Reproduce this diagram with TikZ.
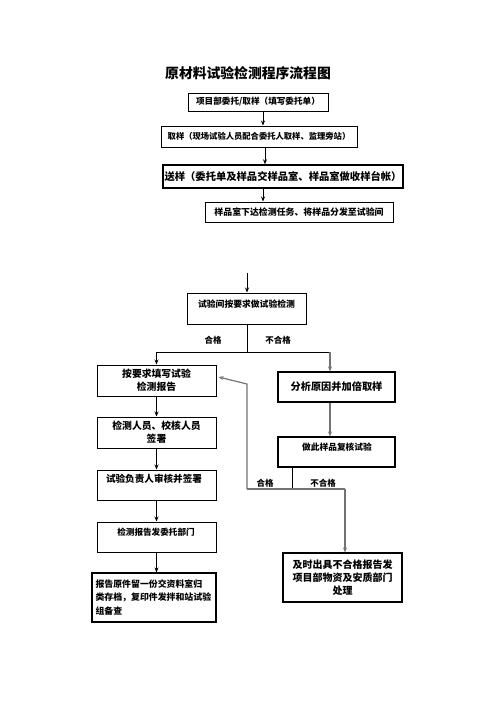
\documentclass[tikz,border=0pt]{standalone}
\usepackage{fontspec}
\newfontfamily\cjk{Noto Sans CJK SC}
\usetikzlibrary{arrows.meta,positioning}

\tikzset{
  box/.style={draw, line width=1pt, inner sep=0pt, align=center, font=\cjk\bfseries},
  tag/.style={inner sep=0pt, font=\cjk\bfseries\fontsize{8.5}{10}\selectfont},
  arr/.style={line width=0.8pt, -{Stealth[length=5pt,width=4pt]}},
  garr/.style={arr, draw=black!55, line width=1.2pt},
  gline/.style={draw=black!55, line width=1.2pt},
}

\begin{document}
\begin{tikzpicture}[x=1pt,y=-1pt]
  \useasboundingbox (0,0) rectangle (496,702);

  % title
  \node[font=\cjk\bfseries\fontsize{13.8}{16}\selectfont] (title) at (248,73) {原材料试验检测程序流程图};

  % top chain
  \node[box, minimum width=140, minimum height=18, font=\cjk\bfseries\fontsize{8.6}{10}\selectfont] (b1) at (258,102) {项目部委托/取样（填写委托单）};
  \node[box, minimum width=196, minimum height=21, font=\cjk\bfseries\fontsize{8.3}{10}\selectfont] (b2) at (259,136.5) {取样（现场试验人员配合委托人取样、监理旁站）};
  \node[box, line width=1.4pt, minimum width=240, minimum height=23, font=\cjk\bfseries\fontsize{10.3}{12}\selectfont] (b3) at (283,176.5) {送样（委托单及样品交样品室、样品室做收样台帐）};
  \node[box, minimum width=188, minimum height=20, font=\cjk\bfseries\fontsize{8.9}{10}\selectfont] (b4) at (299,212) {样品室下达检测任务、将样品分发至试验间};

  % test
  \coordinate (top) at (247,273);
  \node[box, minimum width=119, minimum height=31] (b5) at (246.5,308.5) {};
  \node[tag, font=\cjk\bfseries\fontsize{8.8}{10}\selectfont] (t5) at (246.5,304) {试验间按要求做试验检测};

  % left column
  \node[box, minimum width=119, minimum height=31, font=\cjk\bfseries\fontsize{9.8}{13}\selectfont] (b6) at (156.5,380.5) {按要求填写试验\\检测报告};
  \node[box, minimum width=119, minimum height=31, font=\cjk\bfseries\fontsize{9.8}{13}\selectfont] (b9) at (156.5,432.5) {检测人员、校核人员\\签署};
  \node[box, minimum width=119, minimum height=30] (b10) at (156.5,485) {};
  \node[tag, font=\cjk\bfseries\fontsize{9.6}{12}\selectfont] (t10) at (154,479) {试验负责人审核并签署};
  \node[box, minimum width=119, minimum height=30] (b11) at (156.5,537) {};
  \node[tag, font=\cjk\bfseries\fontsize{8.6}{10}\selectfont] (t11) at (156,532) {检测报告发委托部门};
  \node[box, line width=1.2pt, minimum width=124, minimum height=49, text width=117, inner xsep=3.5pt, align=left, font=\cjk\bfseries\fontsize{8.9}{13.5}\selectfont] (b12) at (154,597.5) {报告原件留一份交资料室归\\类存档，复印件发拌和站试验\\组备查};

  % right column
  \node[box, line width=1.2pt, minimum width=117, minimum height=30, font=\cjk\bfseries\fontsize{10.2}{12}\selectfont] (b7) at (336.5,387) {分析原因并加倍取样};
  \node[box, line width=1.2pt, minimum width=117, minimum height=30] (b8) at (336.5,452) {};
  \node[tag, font=\cjk\bfseries\fontsize{8.7}{10}\selectfont] (t8) at (337,447) {做此样品复核试验};
  \node[box, line width=1.2pt, minimum width=119, minimum height=49, font=\cjk\bfseries\fontsize{10}{13}\selectfont] (b13) at (342.5,577.5) {及时出具不合格报告发\\项目部物资及安质部门\\处理};

  % labels
  \node[tag] (ok1) at (213,340) {合格};
  \node[tag] (ng1) at (278,340) {不合格};
  \node[tag] (ok2) at (265,483) {合格};
  \node[tag] (ng2) at (323,483) {不合格};

  % top arrows
  \draw[arr] ([xshift=5]b1.south) -- ([xshift=5]b1.south |- b2.north);
  \draw[arr] ([xshift=6]b2.south) -- ([xshift=6]b2.south |- b3.north);
  \draw[arr] ([xshift=4]b2.south |- b3.south) -- ([xshift=4]b2.south |- b4.north);
  \draw[arr] (top) -- (top |- b5.north);

  % split after test
  \coordinate (sp) at (top |- 0,352);
  \coordinate (spl) at (b6.north |- sp);
  \coordinate (spr) at (330,352);
  \draw[line width=0.8pt] (b5.south -| top) -- (sp);
  \draw[line width=0.8pt] (spl) -- (spr);
  \draw[arr] (spl) -- (b6.north);
  \draw[garr] (spr) -- (spr |- b7.north);
  \draw[garr] (spr |- b7.south) -- (spr |- b8.north);

  % left chain
  \draw[arr] (b6.south) -- (b9.north);
  \draw[arr] (b9.south) -- (b10.north);
  \draw[arr] (b10.south) -- (b11.north);
  \draw[arr] (b11.south) -- (b12.north -| b11.south);

  % recheck split
  \coordinate (rs) at (292,489);
  \coordinate (rl) at (247,489);
  \coordinate (rr) at (345,489);
  \draw[line width=0.8pt] (rs |- b8.south) -- (rs);
  \draw[gline] (rl) -- (rr);
  \draw[garr] (rl) -- (rl |- 0,384) -- ([yshift=3.5,xshift=2]b6.east);
  \draw[garr] (rr) -- (rr |- b13.north);
\end{tikzpicture}
\end{document}
